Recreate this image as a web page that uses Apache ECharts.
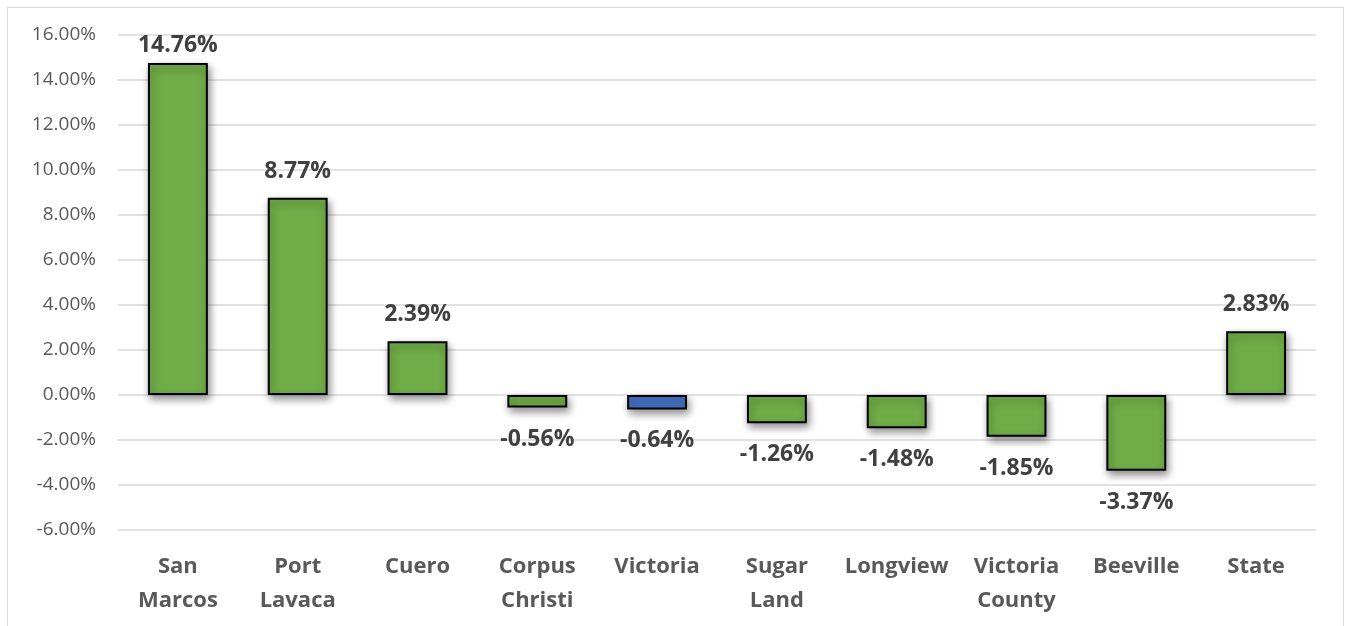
<!DOCTYPE html>
<html>
<head>
<meta charset="utf-8">
<script src="https://cdn.jsdelivr.net/npm/echarts@6/dist/echarts.min.js"></script>
<style>
  html, body { margin: 0; padding: 0; background: #fff; }
  #frame { position: absolute; left: 7px; top: 7px; width: 1337px; height: 640px; border: 1px solid #d9d9d9; box-sizing: border-box; }
  #chart { position: absolute; left: 0; top: 0; width: 1348px; height: 626px; }
</style>
</head>
<body>
<div id="frame"></div>
<div id="chart"></div>
<script>
// categories and values (percent)
var cities = ['San\nMarcos', 'Port\nLavaca', 'Cuero', 'Corpus\nChristi', 'Victoria', 'Sugar\nLand', 'Longview', 'Victoria\nCounty', 'Beeville', 'State']
var changes = [14.76, 8.77, 2.39, -0.56, -0.64, -1.26, -1.48, -1.85, -3.37, 2.83]
var highlight = 'Victoria'
var yMax = 16

var chart = echarts.init(document.getElementById('chart'))

var barData = changes.map(function (v, i) {
  var label
  if (v >= 0) {
    // labels near the top get squeezed to stay inside the plot, like in excel
    label = { position: 'top', distance: v > yMax - 2 ? 6 : 15 }
  } else {
    label = { position: 'bottom', distance: 20 }
  }
  return {
    value: v,
    itemStyle: { color: cities[i] === highlight ? '#4472C4' : '#70AD47' },
    label: label,
  }
})

var option = {
  animation: false,
  grid: { left: 118, right: 32, top: 35, bottom: 96 },
  xAxis: {
    type: 'category',
    data: cities,
    axisLine: { show: false },
    axisTick: { show: false },
    axisLabel: {
      interval: 0,
      margin: 20,
      color: '#595959',
      fontFamily: 'Open Sans',
      fontWeight: 'bold',
      fontSize: 22,
      lineHeight: 34,
    },
  },
  yAxis: {
    type: 'value',
    min: -6,
    max: yMax,
    interval: 2,
    axisLine: { show: false },
    axisTick: { show: false },
    splitLine: { lineStyle: { color: '#d9d9d9', width: 1.5 } },
    axisLabel: {
      margin: 22,
      color: '#595959',
      fontFamily: 'Open Sans',
      fontSize: 19,
      formatter: function (v) { return v.toFixed(2) + '%' },
    },
  },
  series: [
    {
      type: 'bar',
      data: barData,
      barWidth: '50%',
      itemStyle: {
        borderColor: '#000',
        borderWidth: 2,
        shadowColor: 'rgba(0,0,0,0.45)',
        shadowBlur: 8,
        shadowOffsetX: 2,
        shadowOffsetY: 4,
      },
      label: {
        show: true,
        color: '#404040',
        fontFamily: 'Open Sans',
        fontWeight: 'bold',
        fontSize: 23,
        formatter: function (p) { return p.value.toFixed(2) + '%' },
      },
    },
  ],
}

chart.setOption(option)
</script>
</body>
</html>
